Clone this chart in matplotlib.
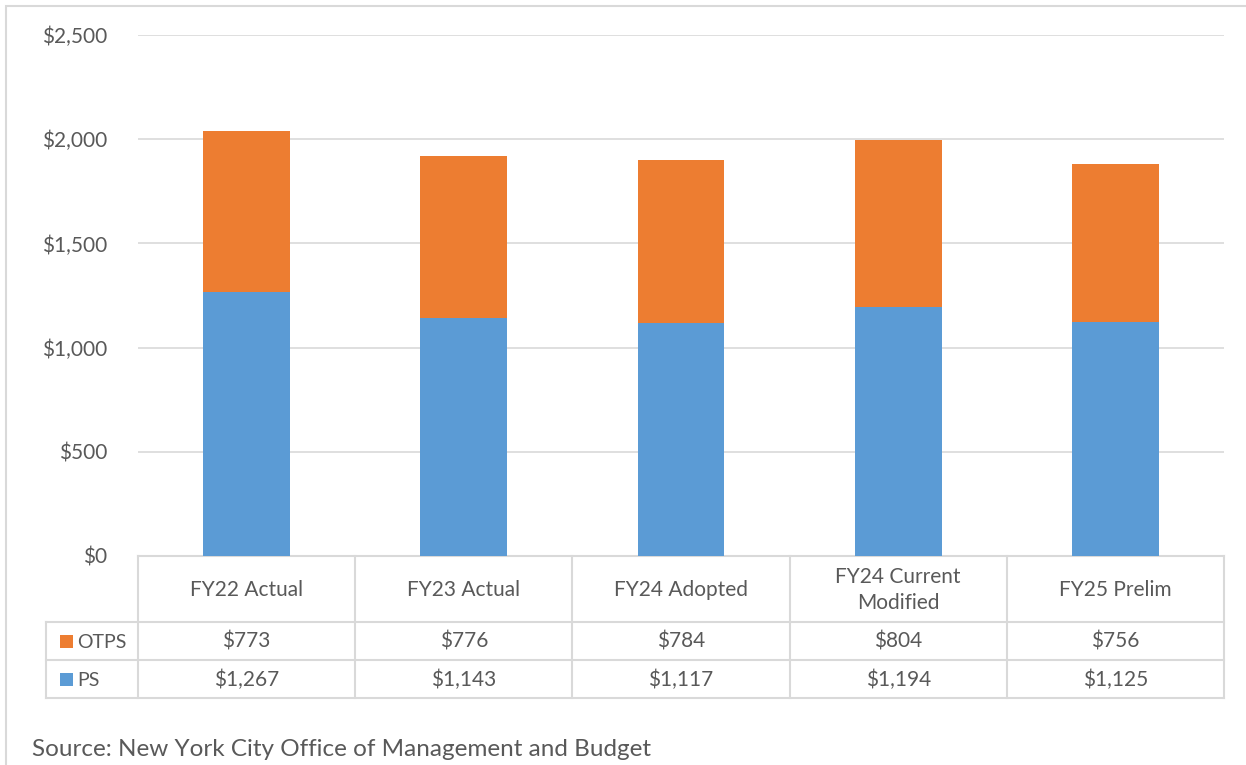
import numpy as np
import matplotlib.pyplot as plt
import matplotlib.transforms as mtransforms
from matplotlib.lines import Line2D
from matplotlib.patches import Rectangle

plt.rcParams['font.family'] = ['Lato', 'DejaVu Sans']

# Data (millions)
categories = ["FY22 Actual", "FY23 Actual", "FY24 Adopted", "FY24 Current\nModified", "FY25 Prelim"]
ps = [1267, 1143, 1117, 1194, 1125]
otps = [773, 776, 784, 804, 756]
yticks = [0, 500, 1000, 1500, 2000, 2500]

blue = '#5B9BD5'
orange = '#ED7D31'
grid_c = '#D9D9D9'
txt_c = '#595959'

W, H = 1246, 765
fig = plt.figure(figsize=(W / 100, H / 100), dpi=100)

def fx(px):
    return px / W

def fy(py):
    return 1 - py / H

ax = fig.add_axes([fx(138), fy(556), fx(1224) - fx(138), fy(35) - fy(556)])
x = np.arange(len(categories))
ax.bar(x, ps, width=0.4, color=blue, zorder=3)
ax.bar(x, otps, width=0.4, bottom=ps, color=orange, zorder=3)
ax.set_xlim(-0.5, len(categories) - 0.5)
ax.set_ylim(0, 2500)
ax.set_yticks(yticks)
ax.set_yticklabels(['${:,}'.format(v) for v in yticks], fontsize=15, color=txt_c)
ax.tick_params(axis='y', length=0, pad=22)
ax.set_xticks([])
ax.grid(axis='y', color=grid_c, linewidth=1.2, zorder=0)
for s in ['top', 'right', 'left']:
    ax.spines[s].set_visible(False)
ax.spines['bottom'].set_color(grid_c)
ax.spines['bottom'].set_linewidth(1.5)

# chart frame
fig.add_artist(Rectangle((fx(6), fy(770)), 1.2, fy(6) - fy(770), transform=fig.transFigure,
                         fill=False, edgecolor=grid_c, linewidth=1.5))

# data table below
tr = mtransforms.blended_transform_factory(ax.transData, fig.transFigure)
lw = 1.5
row_h = [556, 622, 660, 698]
for yy in row_h[1:]:
    fig.add_artist(Line2D([fx(46), fx(1224)], [fy(yy), fy(yy)], transform=fig.transFigure,
                          color=grid_c, linewidth=lw))
for k in range(len(categories) + 1):
    fig.add_artist(Line2D([k - 0.5, k - 0.5], [fy(556), fy(698)], transform=tr,
                          color=grid_c, linewidth=lw))
fig.add_artist(Line2D([fx(46), fx(46)], [fy(622), fy(698)], transform=fig.transFigure,
                      color=grid_c, linewidth=lw))

for i, cat in enumerate(categories):
    fig.text(i, fy(590), cat, transform=tr, ha='center', va='center', fontsize=15,
             color=txt_c, linespacing=1.4)
    fig.text(i, fy(642), '${:,}'.format(otps[i]), transform=tr, ha='center', va='center',
             fontsize=15, color=txt_c)
    fig.text(i, fy(680), '${:,}'.format(ps[i]), transform=tr, ha='center', va='center',
             fontsize=15, color=txt_c)

for label, color, yc in [("OTPS", orange, 641), ("PS", blue, 679)]:
    fig.add_artist(Rectangle((fx(60), fy(yc + 7)), fx(13), fy(yc - 6) - fy(yc + 7),
                             transform=fig.transFigure, facecolor=color, edgecolor='none'))
    fig.text(fx(77), fy(yc + 1), label, ha='left', va='center', fontsize=14, color=txt_c)

fig.text(fx(32), fy(750), "Source: New York City Office of Management and Budget",
         ha='left', va='center', fontsize=17.5, color=txt_c)

fig.savefig('out.png', dpi=100)
